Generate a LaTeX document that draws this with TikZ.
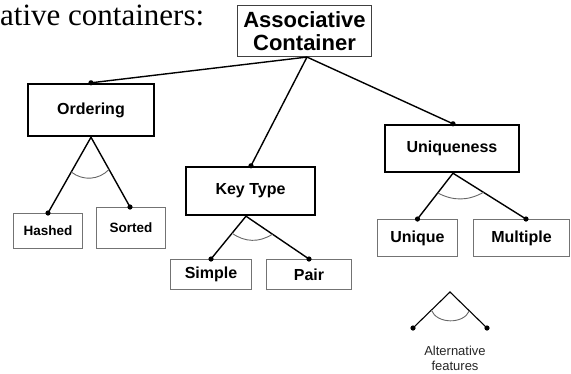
\documentclass[tikz,border=0pt]{standalone}
\usepackage{fontspec}
\setmainfont{Liberation Serif}
\newfontfamily\arialfont{Liberation Sans}
\usetikzlibrary{calc}

\begin{document}
\begin{tikzpicture}[x=1pt,y=-1pt,
  grouping/.style={draw=black, line width=2.4pt, fill=white, inner sep=0pt,
    font=\arialfont\bfseries\fontsize{16}{18}\selectfont, text=black},
  leaf/.style={draw=black!55, line width=1pt, fill=white, inner sep=0pt,
    font=\arialfont\bfseries\fontsize{16}{18}\selectfont, text=black},
  conn/.style={draw=black, line width=1.4pt},
  altarc/.style={draw=black!60, line width=0.9pt},
  joint/.style={fill=black},
]
\useasboundingbox (0,0) rectangle (571,373);

% lead-in sentence fragment
\node[anchor=base west, inner sep=0pt] (lead) at (0,25)
  {\fontsize{31}{36}\selectfont ative containers:};

% root concept
\node[draw=black!75, line width=1.1pt, fill=white, inner sep=0pt,
      minimum width=134pt, minimum height=51pt, align=center,
      font=\arialfont\bfseries\fontsize{22}{23}\selectfont, text=black]
  (assoc) at (304.5,31) {Associative\\Container};

% feature groups
\node[grouping, minimum width=126pt, minimum height=52pt] (ord) at (91,110) {Ordering};
\node[grouping, minimum width=129pt, minimum height=48pt] (key) at (250.5,191) {Key Type};
\node[grouping, minimum width=134pt, minimum height=47pt] (uniq) at (452,148.5) {Uniqueness};

% alternative leaves
\node[leaf, minimum width=69pt, minimum height=35pt,
      font=\arialfont\bfseries\fontsize{13.5}{16}\selectfont] (hashed) at (48,231) {Hashed};
\node[leaf, minimum width=69pt, minimum height=41pt,
      font=\arialfont\bfseries\fontsize{13.5}{16}\selectfont] (sorted) at (131,228) {Sorted};
\node[leaf, minimum width=81pt, minimum height=30pt] (simple) at (211,274.5) {Simple};
\node[leaf, minimum width=85pt, minimum height=30pt] (pair) at (309,274.5) {Pair};
\node[leaf, minimum width=80pt, minimum height=37pt] (unique) at (417.5,238) {Unique};
\node[leaf, minimum width=96pt, minimum height=37pt] (multiple) at (521.5,238) {Multiple};

% connection points
\coordinate (rootbase) at ([xshift=2.5pt]assoc.south);
\coordinate (ordtop) at (ord.north);
\coordinate (keytop) at ([xshift=0.5pt]key.north);
\coordinate (uniqtop) at ([xshift=1pt]uniq.north);
\coordinate (ordbase) at (ord.south);
\coordinate (keybase) at ([xshift=-4.5pt]key.south);
\coordinate (uniqbase) at ([xshift=1pt]uniq.south);
\coordinate (hashedtop) at (hashed.north);
\coordinate (sortedtop) at ([xshift=-1pt]sorted.north);
\coordinate (simpletop) at (simple.north);
\coordinate (pairtop) at (pair.north);
\coordinate (uniquetop) at (unique.north);
\coordinate (multipletop) at ([xshift=4.5pt]multiple.north);

% mandatory sub-features
\draw[conn] (rootbase) -- (ordtop);
\draw[conn] (rootbase) -- (keytop);
\draw[conn] (rootbase) -- (uniqtop);

% alternative branches
\draw[conn] (ordbase) -- (hashedtop);
\draw[conn] (ordbase) -- (sortedtop);
\draw[conn] (keybase) -- (simpletop);
\draw[conn] (keybase) -- (pairtop);
\draw[conn] (uniqbase) -- (uniquetop);
\draw[conn] (uniqbase) -- (multipletop);

% alternative arcs
\draw[altarc] ($(ordbase)!40pt!(hashedtop)$) to[bend right=42] ($(ordbase)!37pt!(sortedtop)$);
\draw[altarc] ($(keybase)!22pt!(simpletop)$) to[bend right=34] ($(keybase)!32pt!(pairtop)$);
\draw[altarc] ($(uniqbase)!25pt!(uniquetop)$) to[bend right=28] ($(uniqbase)!36pt!(multipletop)$);

% joints
\foreach \p in {ordtop,keytop,uniqtop,hashedtop,sortedtop,simpletop,pairtop,uniquetop,multipletop}
  \fill[joint] (\p) circle (2.6pt);

% legend
\coordinate (legapex) at (450,292);
\coordinate (legleft) at (413,328);
\coordinate (legright) at (487,328);
\draw[conn, line width=1.1pt] (legleft) -- (legapex) -- (legright);
\draw[altarc] ($(legapex)!26pt!(legleft)$) to[bend right=68] ($(legapex)!27pt!(legright)$);
\fill[joint] (legleft) circle (2.6pt);
\fill[joint] (legright) circle (2.6pt);
\node[align=center, inner sep=0pt, text=black!85,
      font=\arialfont\fontsize{13}{15}\selectfont] (legtext) at (455,358)
  {Alternative\\features};
\end{tikzpicture}
\end{document}
